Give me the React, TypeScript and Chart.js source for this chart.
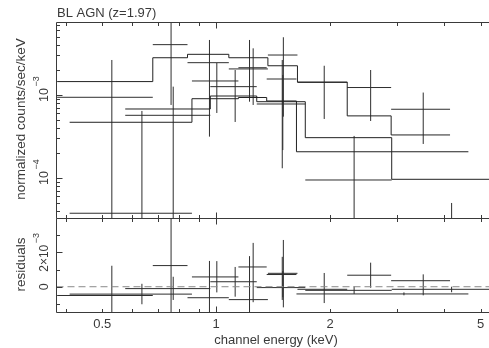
import React, { useEffect, useRef } from "react";
import { Chart, registerables } from "chart.js";

Chart.register(...registerables);

// ---------------- axes ----------------
const energyTicks = [0.4, 0.5, 0.6, 0.7, 0.8, 0.9, 1, 2, 3, 4, 5];
const energyMajorTicks = [1];
const energyLabelValues = [0.5, 1, 2, 5];
const energyLabelTexts = ["0.5", "1", "2", "5"];

const rateTicks = [
  4e-5, 5e-5, 6e-5, 7e-5, 8e-5, 9e-5, 1e-4, 2e-4, 3e-4, 4e-4, 5e-4, 6e-4, 7e-4,
  8e-4, 9e-4, 1e-3, 2e-3, 3e-3, 4e-3, 5e-3, 6e-3, 7e-3,
];
const rateMajorTicks = [1e-4, 1e-3];
const rateLabelValues = [1e-4, 1e-3];
const rateLabelExps = ["\u22124", "\u22123"];

const residTicks = [-1e-3, 0, 1e-3, 2e-3, 3e-3];
const residMajorTicks = [0, 2e-3];

const ENERGY_MIN = 0.3785;
const ENERGY_MAX = 5.26;
const RATE_MIN = 3.25e-5;
const RATE_MAX = 7.47e-3;
const RESID_MIN = -1.5e-3;
const RESID_MAX = 3.97e-3;

// ---------------- pn ----------------
const pnEnergy = [0.53, 0.76, 0.96, 1.225, 1.505, 1.93, 2.56, 3.525];
const pnHalfWidth = [0.15, 0.08, 0.12, 0.145, 0.135, 0.29, 0.34, 0.625];
const pnRate = [9.38e-4, 4.04e-3, 2.45e-3, 2.06e-3, 3.03e-3, 1.42e-3, 1.23e-3, 6.73e-4];
const pnRateLow = [2e-5, 7.58e-4, 3.15e-4, 8.3e-4, 5.48e-4, 5.14e-4, 4.86e-4, 2.57e-4];
const pnRateHigh = [2.64e-3, 8.5e-3, 4.6e-3, 4.6e-3, 4.96e-3, 2.25e-3, 2.0e-3, 1.07e-3];
const pnModelEdges = [0.38, 0.68, 0.84, 1.08, 1.37, 1.64, 2.22, 2.9, 4.15];
const pnModel = [1.45e-3, 2.81e-3, 3.09e-3, 2.81e-3, 2.25e-3, 1.43e-3, 5.6e-4, 3.3e-4];
const pnResid = [-0.51e-3, 1.23e-3, -0.64e-3, -0.75e-3, 0.78e-3, -0.15e-3, 0.67e-3, 0.35e-3];
const pnResidLow = [-1.6e-3, -2.05e-3, -2.78e-3, -1.98e-3, -1.2e-3, -0.95e-3, -0.06e-3, -0.5e-3];
const pnResidHigh = [1.22e-3, 4.5e-3, 1.5e-3, 1.78e-3, 2.72e-3, 0.8e-3, 1.4e-3, 0.72e-3];

// ---------------- MOS1 ----------------
const mos1Energy = [0.77, 1.1225, 1.5, 2.315, 4.19];
const mos1HalfWidth = [0.195, 0.1575, 0.22, 0.595, 1.28];
const mos1Rate = [5.69e-4, 1.26e-3, 7.79e-4, 9.46e-5, -5.3e-5];
const mos1RateLow = [2e-5, 4.73e-4, 2.17e-4, 1e-5, -1.5e-4];
const mos1RateHigh = [1.26e-3, 2.0e-3, 1.74e-3, 3.21e-4, 5.0e-5];
const mos1ModelEdges = [0.575, 0.965, 1.28, 1.72, 2.91, 5.47];
const mos1Model = [6.78e-4, 9.72e-4, 8.3e-4, 3.06e-4, 9.64e-5];
const mos1Resid = [-0.11e-3, 0.29e-3, -0.05e-3, -0.21e-3, -0.15e-3];
const mos1ResidLow = [-0.77e-3, -0.58e-3, -0.61e-3, -0.42e-3, -0.32e-3];
const mos1ResidHigh = [0.58e-3, 1.15e-3, 0.91e-3, 0.02e-3, 0.0];

// ---------------- MOS2 ----------------
const mos2Energy = [0.6365, 1.004, 1.2525, 1.495, 3.135];
const mos2HalfWidth = [0.2265, 0.141, 0.1075, 0.135, 1.505];
const mos2Rate = [3.76e-5, 1.475e-3, 2.13e-3, 1.558e-3, -2.1e-4];
const mos2RateLow = [1e-5, 6.07e-4, 7.58e-4, 1.31e-4, -2.9e-4];
const mos2RateHigh = [6.42e-4, 2.43e-3, 3.65e-3, 2.64e-3, -1.2e-4];
const mos2ModelEdges = [0.41, 0.863, 1.145, 1.36, 1.63, 4.64];
const mos2Model = [4.69e-4, 9.02e-4, 9.33e-4, 8.47e-4, 2.07e-4];
const mos2Resid = [-0.43e-3, 0.57e-3, 1.15e-3, 0.71e-3, -0.42e-3];
const mos2ResidLow = [-1.02e-3, -0.33e-3, -0.9e-3, -0.77e-3, -0.5e-3];
const mos2ResidHigh = [0.17e-3, 1.49e-3, 2.55e-3, 1.74e-3, -0.33e-3];

// ---------------- style ----------------
const INK = "#2e2e2e";
const FRAME = "#3a3a3a";
const TEXT = "#3a3a3a";
const DASH = "#8a8a8a";
const FONT = '"Liberation Sans", Arial, sans-serif';

type P = { x: number; y: number | null };

function crosses(
  energy: number[],
  half: number[],
  val: number[],
  lo: number[],
  hi: number[],
  logFloor?: number
): P[] {
  const out: P[] = [];
  energy.forEach((e, i) => {
    out.push({ x: e - half[i], y: val[i] }, { x: e + half[i], y: val[i] }, { x: e, y: null });
    let l = lo[i];
    const h = hi[i];
    if (logFloor !== undefined) {
      if (h <= 0) return;
      l = Math.max(l, logFloor);
    }
    out.push({ x: e, y: l }, { x: e, y: h }, { x: e, y: null });
  });
  return out;
}

function steps(edges: number[], vals: number[]): P[] {
  const out: P[] = vals.map((v, i) => ({ x: edges[i], y: v }));
  out.push({ x: edges[edges.length - 1], y: vals[vals.length - 1] });
  return out;
}

function lineDs(data: P[], extra: any = {}) {
  return {
    data,
    borderColor: INK,
    borderWidth: 1,
    pointRadius: 0,
    pointHoverRadius: 0,
    fill: false,
    spanGaps: false,
    tension: 0,
    ...extra,
  };
}

function frameAndTicks(
  chart: any,
  yTicks: number[],
  yMajor: number[],
  drawTopLine: boolean,
  drawBottomLine: boolean
) {
  const { ctx, chartArea } = chart;
  const { left, top, right, bottom } = chartArea;
  const xs = chart.scales.x;
  const ys = chart.scales.y;
  ctx.save();
  ctx.strokeStyle = FRAME;
  ctx.lineWidth = 1;
  ctx.beginPath();
  ctx.moveTo(left, top);
  ctx.lineTo(left, bottom);
  if (drawTopLine) {
    ctx.moveTo(left, top);
    ctx.lineTo(right + 5, top);
  }
  if (drawBottomLine) {
    ctx.moveTo(left, bottom);
    ctx.lineTo(right + 5, bottom);
  }
  for (const v of energyTicks) {
    const px = Math.round(xs.getPixelForValue(v)) + 0.5;
    const len = energyMajorTicks.includes(v) ? 6 : 3.5;
    ctx.moveTo(px, top);
    ctx.lineTo(px, top + len);
    ctx.moveTo(px, bottom);
    ctx.lineTo(px, bottom - len);
  }
  for (const v of yTicks) {
    const py = Math.round(ys.getPixelForValue(v)) + 0.5;
    const len = yMajor.includes(v) ? 6 : 3.5;
    ctx.moveTo(left, py);
    ctx.lineTo(left + len, py);
  }
  ctx.stroke();
  ctx.restore();
}

function vText(ctx: CanvasRenderingContext2D, text: string, xBase: number, yCenter: number, font: string) {
  ctx.save();
  ctx.translate(xBase, yCenter);
  ctx.rotate(-Math.PI / 2);
  ctx.font = font;
  ctx.textAlign = "center";
  ctx.textBaseline = "alphabetic";
  ctx.fillText(text, 0, 0);
  ctx.restore();
}

function vPower(
  ctx: CanvasRenderingContext2D,
  mant: string,
  exp: string,
  xBase: number,
  yAnchor: number,
  centerWhole: boolean,
  size: number,
  supSize: number
) {
  ctx.save();
  ctx.translate(xBase, yAnchor);
  ctx.rotate(-Math.PI / 2);
  ctx.textAlign = "left";
  ctx.textBaseline = "alphabetic";
  ctx.font = `${size}px ${FONT}`;
  const w1 = ctx.measureText(mant).width;
  ctx.font = `${supSize}px ${FONT}`;
  const w2 = ctx.measureText(exp).width;
  const gap = 1.5;
  const start = centerWhole ? -(w1 + gap + w2) / 2 : -w1 / 2;
  ctx.font = `${size}px ${FONT}`;
  ctx.fillText(mant, start, 0);
  ctx.font = `${supSize}px ${FONT}`;
  ctx.fillText(exp, start + w1 + gap, -9);
  ctx.restore();
}

const commonOptions = (padding: any, yScale: any, plugin: any) => ({
  type: "line" as const,
  options: {
    responsive: false,
    maintainAspectRatio: false,
    animation: false as const,
    devicePixelRatio: 1,
    events: [],
    layout: { padding },
    plugins: {
      legend: { display: false },
      tooltip: { enabled: false },
      title: { display: false },
    },
    scales: {
      x: {
        type: "logarithmic" as const,
        min: ENERGY_MIN,
        max: ENERGY_MAX,
        bounds: "data" as const,
        display: false,
      },
      y: yScale,
    },
  },
  plugins: [plugin],
});

export default function App() {
  const topRef = useRef<HTMLCanvasElement>(null);
  const botRef = useRef<HTMLCanvasElement>(null);

  useEffect(() => {
    const topCfg: any = commonOptions(
      { left: 56.5, top: 22.5, right: 0, bottom: 3.5 },
      { type: "logarithmic", min: RATE_MIN, max: RATE_MAX, bounds: "data", display: false },
      {
        id: "topDecor",
        afterDraw(chart: any) {
          frameAndTicks(chart, rateTicks, rateMajorTicks, true, true);
          const ctx = chart.ctx as CanvasRenderingContext2D;
          const ys = chart.scales.y;
          ctx.save();
          ctx.fillStyle = TEXT;
          ctx.font = `13px ${FONT}`;
          ctx.textAlign = "left";
          ctx.textBaseline = "alphabetic";
          ctx.fillText("BL AGN (z=1.97)", 57, 17);
          vText(ctx, "normalized counts/sec/keV", 25, 119, `13.5px ${FONT}`);
          rateLabelValues.forEach((v, i) =>
            vPower(ctx, "10", rateLabelExps[i], 48, ys.getPixelForValue(v), false, 12.5, 9)
          );
          ctx.restore();
        },
      }
    );
    topCfg.data = {
      datasets: [
        lineDs(steps(pnModelEdges, pnModel), { stepped: "before", borderColor: "#222" }),
        lineDs(steps(mos1ModelEdges, mos1Model), { stepped: "before", borderColor: "#222" }),
        lineDs(steps(mos2ModelEdges, mos2Model), { stepped: "before", borderColor: "#222" }),
        lineDs(crosses(pnEnergy, pnHalfWidth, pnRate, pnRateLow, pnRateHigh, 1e-7)),
        lineDs(crosses(mos1Energy, mos1HalfWidth, mos1Rate, mos1RateLow, mos1RateHigh, 1e-7)),
        lineDs(crosses(mos2Energy, mos2HalfWidth, mos2Rate, mos2RateLow, mos2RateHigh, 1e-7)),
      ],
    };

    const botCfg: any = commonOptions(
      { left: 56.5, top: 4.5, right: 0, bottom: 35.5 },
      { type: "linear", min: RESID_MIN, max: RESID_MAX, bounds: "data", display: false },
      {
        id: "botDecor",
        afterDraw(chart: any) {
          frameAndTicks(chart, residTicks, residMajorTicks, false, true);
          const ctx = chart.ctx as CanvasRenderingContext2D;
          const { top, bottom } = chart.chartArea;
          const xs = chart.scales.x;
          const ys = chart.scales.y;
          ctx.save();
          ctx.fillStyle = TEXT;
          vText(ctx, "residuals", 25, (top + bottom) / 2 - 1, `13.5px ${FONT}`);
          vText(ctx, "0", 48, ys.getPixelForValue(0), `12.5px ${FONT}`);
          vPower(ctx, "2\u00d710", "\u22123", 48, ys.getPixelForValue(2e-3), true, 12, 9);
          ctx.font = `13px ${FONT}`;
          ctx.textAlign = "center";
          ctx.textBaseline = "alphabetic";
          energyLabelValues.forEach((v, i) => {
            ctx.fillText(energyLabelTexts[i], xs.getPixelForValue(v), 114.3);
          });
          ctx.fillText("channel energy (keV)", 276, 129.5);
          ctx.restore();
        },
      }
    );
    botCfg.data = {
      datasets: [
        lineDs(
          [
            { x: ENERGY_MIN, y: 0 },
            { x: ENERGY_MAX, y: 0 },
          ],
          { borderColor: DASH, borderDash: [7, 4] }
        ),
        lineDs(crosses(pnEnergy, pnHalfWidth, pnResid, pnResidLow, pnResidHigh)),
        lineDs(crosses(mos1Energy, mos1HalfWidth, mos1Resid, mos1ResidLow, mos1ResidHigh)),
        lineDs(crosses(mos2Energy, mos2HalfWidth, mos2Resid, mos2ResidLow, mos2ResidHigh)),
      ],
    };

    const topChart = new Chart(topRef.current as HTMLCanvasElement, topCfg);
    const botChart = new Chart(botRef.current as HTMLCanvasElement, botCfg);
    return () => {
      topChart.destroy();
      botChart.destroy();
    };
  }, []);

  return (
    <div
      style={{
        position: "fixed",
        left: 0,
        top: 0,
        width: 489,
        height: 348,
        background: "#fff",
        overflow: "hidden",
      }}
    >
      <canvas
        ref={topRef}
        width={489}
        height={222}
        style={{ position: "absolute", left: 0, top: 0, width: 489, height: 222 }}
      />
      <canvas
        ref={botRef}
        width={489}
        height={134}
        style={{ position: "absolute", left: 0, top: 214, width: 489, height: 134 }}
      />
    </div>
  );
}
